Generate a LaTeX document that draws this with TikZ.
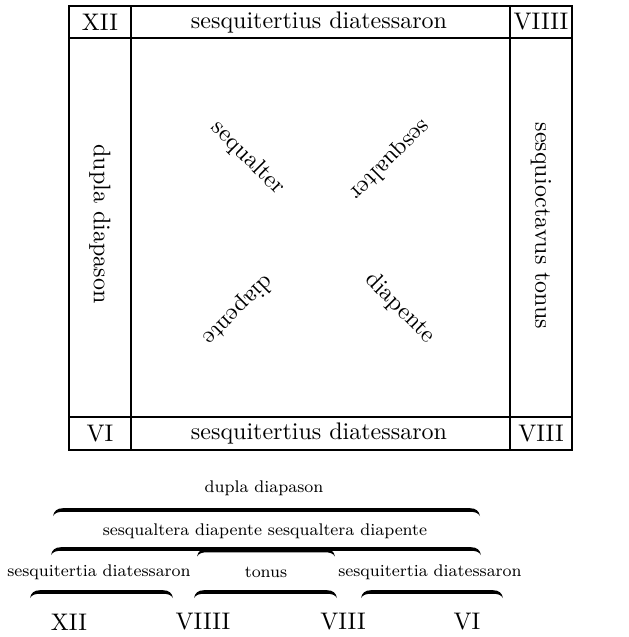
\documentclass[tikz,border=0pt]{standalone}
\newcommand\hookbrace[3]{%
  \fill (#1,#3+6) .. controls (#1+1,#3+1) and (#1+4,#3-1.8) .. (#1+10,#3-1.8)
    -- (#2-10,#3-1.8) .. controls (#2-4,#3-1.8) and (#2-1,#3+1) .. (#2,#3+6)
    .. controls (#2-2,#3+2.8) and (#2-5,#3+1.8) .. (#2-10,#3+1.8)
    -- (#1+10,#3+1.8) .. controls (#1+5,#3+1.8) and (#1+2,#3+2.8) .. cycle;}
\begin{document}
\begin{tikzpicture}[x=0.45pt,y=-0.45pt,
  txt/.style={inner sep=0pt,font=\fontsize{10.8}{13}\selectfont},
  lab/.style={inner sep=0pt,font=\fontsize{7.6}{9}\selectfont},
  rule/.style={line width=0.8pt}]
\useasboundingbox (0,0) rectangle (629,637);
% table
\draw[rule] (69,6) rectangle (572,450);
\draw[rule] (131,6) -- (131,450);
\draw[rule] (510,6) -- (510,450);
\draw[rule] (69,38) -- (572,38);
\draw[rule] (69,417) -- (572,417);
\node[txt] (tl) at (100,22) {XII};
\node[txt] (tc) at (319,22) {sesquitertius diatessaron};
\node[txt] (tr) at (541,22) {VIIII};
\node[txt] (bl) at (100,433.5) {VI};
\node[txt] (bc) at (319,433.5) {sesquitertius diatessaron};
\node[txt] (br) at (541,433.5) {VIII};
\node[txt,rotate=-90] (ml) at (100,224) {dupla diapason};
\node[txt,rotate=-90] (mr) at (541,226) {sesquioctavus tonus};
\node[txt,rotate=-45] (d1) at (248,158) {sequalter};
\node[txt,rotate=225] (d2) at (390,160) {sesqualter};
\node[txt,rotate=225] (d3) at (238,310) {diapente};
\node[txt,rotate=-45] (d4) at (400,308) {diapente};
% braces
\node[lab] (l1) at (264,488) {dupla diapason};
\hookbrace{53}{480}{510}
\node[lab] (l2) at (265,531) {sesqualtera diapente sesqualtera diapente};
\hookbrace{51}{481}{549}
\hookbrace{197}{335}{550.5}
\node[lab] (l3) at (99,572) {sesquitertia diatessaron};
\node[lab] (l4) at (266,572) {tonus};
\node[lab] (l5) at (430,572) {sesquitertia diatessaron};
\hookbrace{30}{173}{592}
\hookbrace{194}{337}{592}
\hookbrace{361}{503}{592}
\node[txt] (n1) at (69,622) {XII};
\node[txt] (n2) at (203,622) {VIIII};
\node[txt] (n3) at (343,622) {VIII};
\node[txt] (n4) at (467,622) {VI};
\end{tikzpicture}
\end{document}
